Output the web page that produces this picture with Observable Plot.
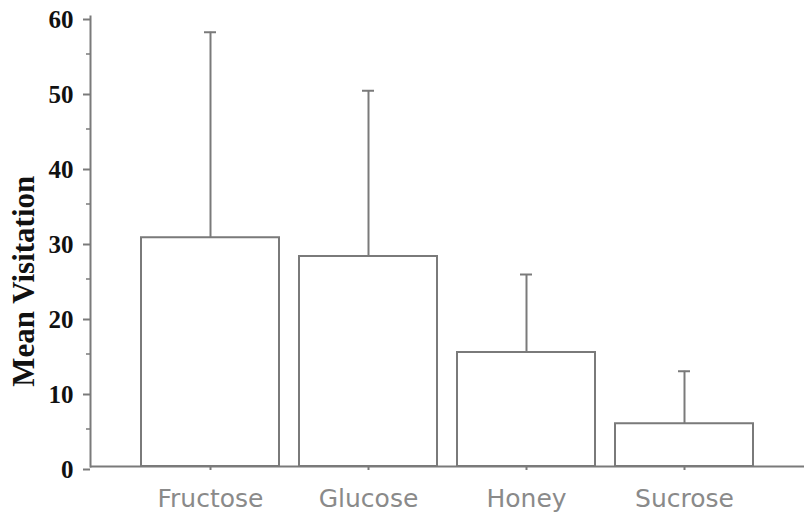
<!DOCTYPE html>
<html><head><meta charset="utf-8">
<script src="https://cdn.jsdelivr.net/npm/d3@7"></script>
<script src="https://cdn.jsdelivr.net/npm/@observablehq/plot@0.6"></script>
<style>body{margin:0;background:#fff}</style>
</head><body><div id="chart"></div>
<script>
const categories = ["Fructose", "Glucose", "Honey", "Sucrose"];
const means = [30.5, 28.0, 15.2, 5.7];
const uppers = [57.9, 50.1, 25.6, 12.7];
const majorTicks = [0, 10, 20, 30, 40, 50, 60];
const minorTicks = [5, 15, 25, 35, 45, 55];

const data = categories.map((c, i) => ({cat: c, mean: means[i], upper: uppers[i]}));
const gray = "#7a7a7a";

const plot = Plot.plot({
  width: 806, height: 518,
  marginLeft: 90, marginRight: 2, marginTop: 16, marginBottom: 52,
  x: {domain: categories, paddingInner: 0.126, paddingOuter: 0.31, label: null},
  y: {domain: [0, 60], label: null},
  marks: [
    Plot.barY(data, {x: "cat", y: "mean", fill: "white", stroke: gray, strokeWidth: 2}),
    Plot.ruleX(data, {x: "cat", y1: "mean", y2: "upper", stroke: gray, strokeWidth: 2}),
    Plot.tickY(data, {x: "cat", y: "upper", stroke: gray, strokeWidth: 2, insetLeft: 63, insetRight: 63}),
    Plot.ruleY([0], {stroke: gray, strokeWidth: 2}),
    Plot.frame({anchor: "left", stroke: gray, strokeWidth: 2}),
    Plot.axisY({ticks: majorTicks, tickSize: 7, tickPadding: 10, dy: 3, stroke: gray, strokeWidth: 2, strokeOpacity: 1,
      fontSize: 25, fontWeight: "bold", fontFamily: "Liberation Serif", fill: "#111", label: null}),
    Plot.axisY({ticks: minorTicks, tickSize: 4, text: null, stroke: gray, strokeWidth: 1.5, strokeOpacity: 1, label: null}),
    Plot.axisX({tickSize: 4, tickPadding: 19, stroke: gray, strokeWidth: 2, strokeOpacity: 1,
      fontSize: 25, fontFamily: "DejaVu Sans", fill: "#8a8a8a", label: null}),
    Plot.text(["Mean Visitation"], {frameAnchor: "left", textAnchor: "middle", dx: -66, rotate: -90, fontSize: 31, fontWeight: "bold",
      fontFamily: "Liberation Serif", fill: "#111", y: [24.7]})
  ]
});
document.getElementById("chart").appendChild(plot);
</script></body></html>
